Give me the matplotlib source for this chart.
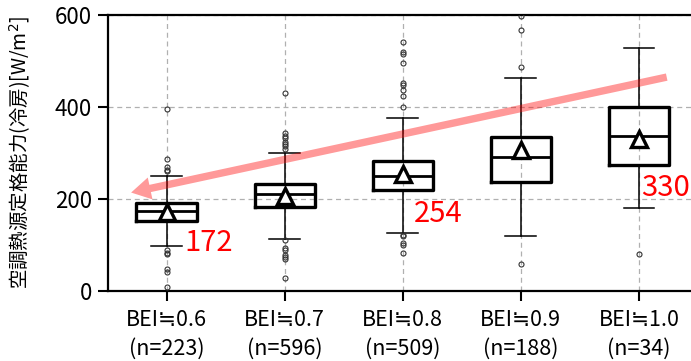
import matplotlib
matplotlib.use("Agg")
import matplotlib.pyplot as plt

plt.rcParams['font.family'] = ['Noto Sans CJK JP', 'DejaVu Sans']

categories = ["BEI≒0.6\n(n=223)", "BEI≒0.7\n(n=596)", "BEI≒0.8\n(n=509)",
              "BEI≒0.9\n(n=188)", "BEI≒1.0\n(n=34)"]
q1 = [152, 183, 220, 236, 275]
med = [173, 211, 251, 292, 336]
q3 = [192, 232, 283, 334, 401]
whislo = [98, 114, 127, 120, 180]
whishi = [251, 301, 376, 464, 529]
means = [172, 207, 254, 307, 330]
fliers = [
    [395, 288, 270, 264, 261, 89, 83, 81, 48, 42, 9],
    [430, 343, 337, 332, 325, 320, 315, 308, 111, 93, 90, 78, 75, 70, 29],
    [541, 520, 515, 496, 452, 448, 437, 424, 399, 122, 119, 104, 100, 83],
    [598, 568, 487, 59],
    [80],
]
mean_labels = ["172", "254", "330"]
arrow_start = (5.235, 465)
arrow_end = (0.70, 214)

fig = plt.figure(figsize=(6.91, 3.61), dpi=100)
ax = fig.add_axes([107.5 / 691, 1 - 291 / 361, 590.5 / 691, 276 / 361])

stats = []
for i in range(len(categories)):
    stats.append(dict(q1=q1[i], med=med[i], q3=q3[i], whislo=whislo[i],
                      whishi=whishi[i], mean=means[i], fliers=fliers[i]))

ax.bxp(stats, positions=range(1, 6), widths=0.51, showmeans=True,
       boxprops=dict(color='black', linewidth=2.4),
       medianprops=dict(color='black', linewidth=2.0),
       whiskerprops=dict(color='black', linewidth=1.1),
       capprops=dict(color='black', linewidth=1.1),
       capwidths=0.26,
       meanprops=dict(marker='^', markerfacecolor='white', markeredgecolor='black',
                      markersize=12, markeredgewidth=2.4),
       flierprops=dict(marker='o', markerfacecolor='none', markeredgecolor='#333333',
                       markersize=3.6, markeredgewidth=0.8),
       zorder=3)

ax.set_xlim(0.5, 5.5)
ax.set_ylim(0, 600)
ax.set_yticks([0, 200, 400, 600])
ax.set_xticks(range(1, 6))
ax.set_xticklabels(categories, fontsize=15.5, linespacing=1.42)
ax.tick_params(axis='y', labelsize=16, length=7, width=1.5, pad=4)
ax.tick_params(axis='x', length=7, width=1.5, pad=6)
ax.grid(True, color='#b0b0b0', linestyle=(0, (4, 3)), linewidth=0.9, zorder=0)
ax.set_axisbelow(True)
for s in ['left', 'top', 'bottom', 'right']:
    ax.spines[s].set_linewidth(1.6)

ax.set_ylabel("空調熱源定格能力(冷房)[W/m$^2$]", fontsize=14)
ax.yaxis.set_label_coords(-0.126, 0.5)

offsets = [(1.15, 105), (3.09, 167), (5.02, 223)]
for k in range(len(mean_labels)):
    ax.text(offsets[k][0], offsets[k][1], mean_labels[k], color='red',
            fontsize=21, va='center', ha='left', zorder=5)

ax.annotate("", xy=arrow_end, xytext=arrow_start,
            arrowprops=dict(arrowstyle='simple,head_length=1.0,head_width=1.15,tail_width=0.38',
                            mutation_scale=14, facecolor='red', edgecolor='none',
                            alpha=0.4, shrinkA=0, shrinkB=0),
            zorder=6, annotation_clip=False)

fig.savefig("out.png", dpi=100)
